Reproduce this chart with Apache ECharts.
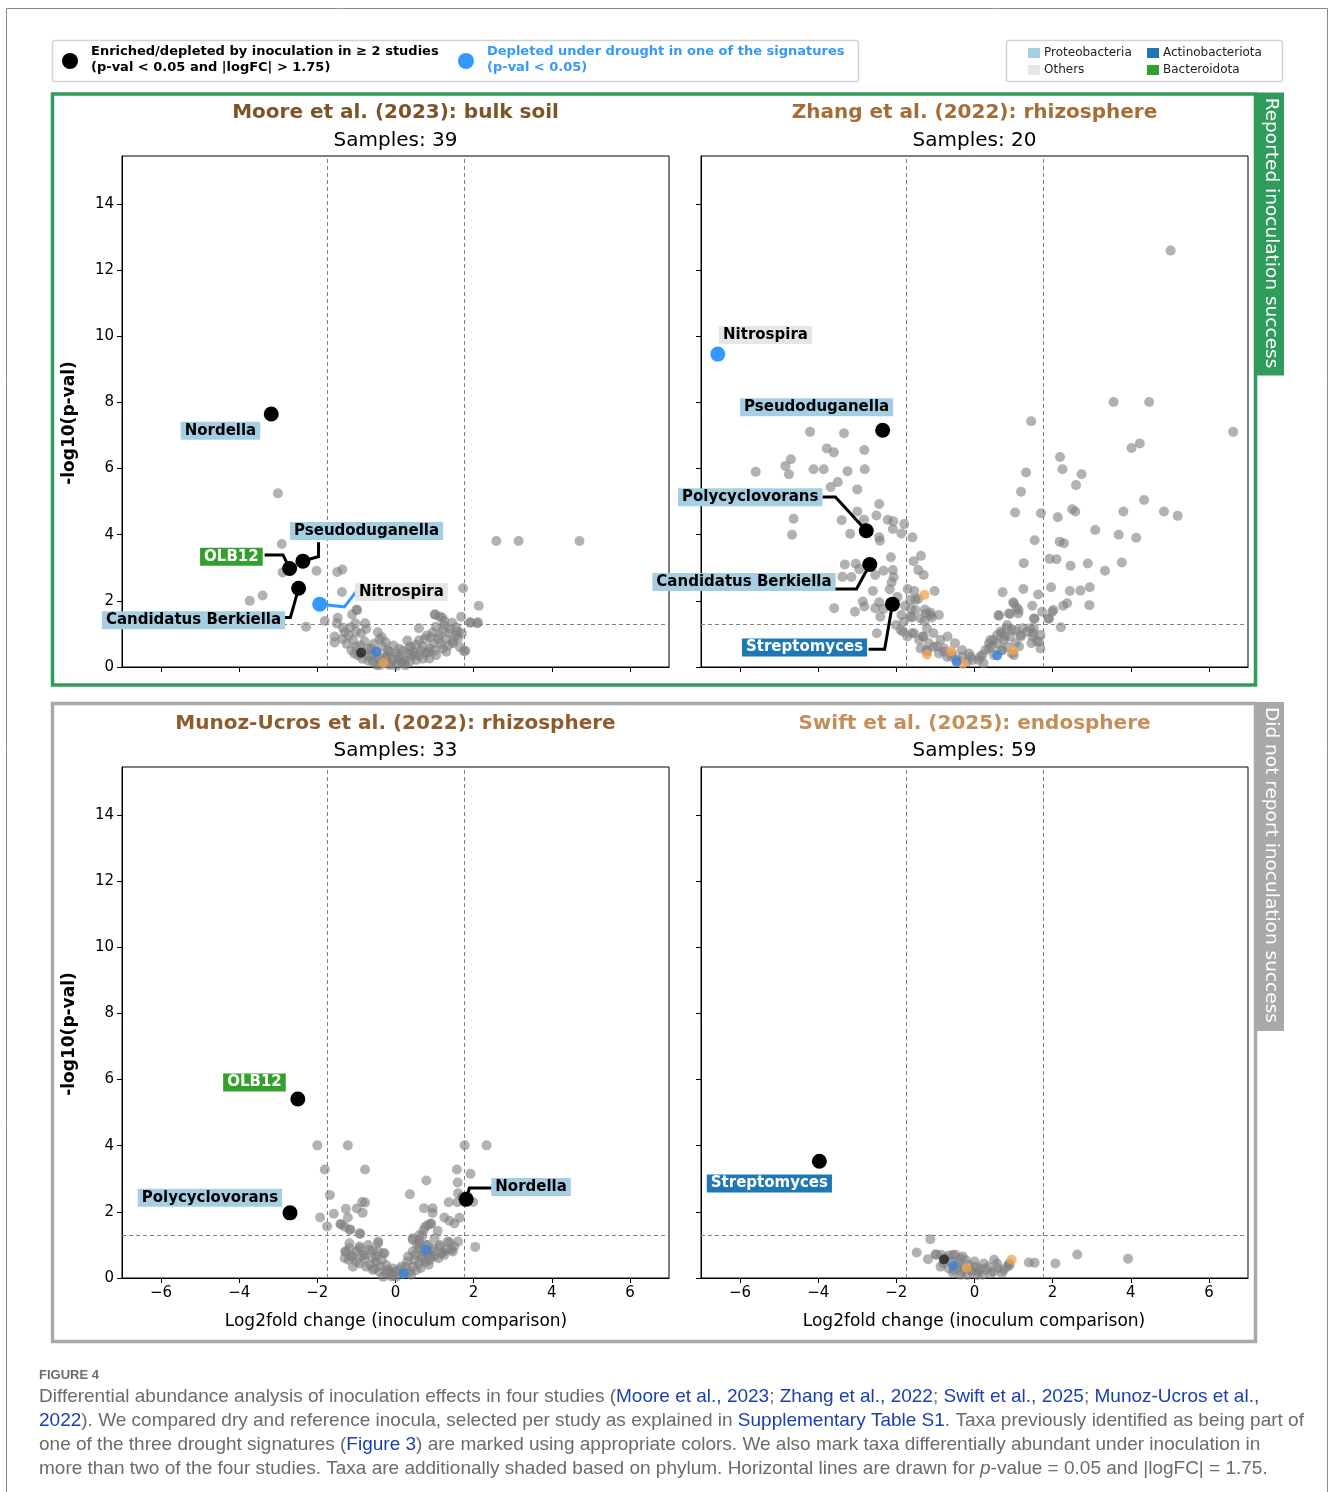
<!DOCTYPE html>
<html><head><meta charset="utf-8">
<script src="https://cdn.jsdelivr.net/npm/echarts@6/dist/echarts.min.js"></script>
<style>html,body{margin:0;padding:0;background:#fff}#c{width:1330px;height:1492px}</style>
</head><body><div id="c"></div>
<script>
// ---------- axis ticks ----------
const xTicks = [-6,-4,-2,0,2,4,6];
const yTicks = [0,2,4,6,8,10,12,14];
const pThreshold = -Math.log10(0.05);
const fcThreshold = 1.75;

// ---------- panel titles ----------
const panelTitles = ['Moore et al. (2023): bulk soil','Zhang et al. (2022): rhizosphere','Munoz-Ucros et al. (2022): rhizosphere','Swift et al. (2025): endosphere'];
const panelSamples = [39,20,33,59];

// ---------- Moore (bulk soil) ----------
const mooreGrey = [[-3.01,5.25],[-2.91,3.72],[-2.89,2.86],[-2.02,2.91],[-3.73,2.0],[-3.40,2.16],[-2.29,1.22],[-1.49,2.87],[-1.36,2.95],[-1.37,2.27],[-1.81,1.39],[-1.0,1.73],[-1.48,1.49],[2.58,3.81],[3.15,3.81],[4.71,3.81],[1.73,2.38],[2.13,1.85],
[-1.11,1.59],[-0.98,1.72],[-1.03,1.32],[-0.78,1.32],[-1.50,1.32],[1.02,1.59],[1.13,1.52],[1.25,1.40],[1.45,1.34],[1.68,1.52],[1.92,1.34],[2.09,1.32],[0.60,1.17],[-1.35,1.19],[-1.01,1.07],[-0.88,1.02],[-0.45,1.05],[-1.56,0.92],[-1.36,0.85],[-1.56,0.74],[-1.09,0.82],[-0.79,0.77],[-0.41,0.84],[1.04,1.22],[1.21,1.12],[1.13,0.97],[1.38,1.02],[1.60,1.07],[1.70,1.02],[1.47,0.77],[1.60,0.87],[1.75,0.48],[0.97,0.72],[0.87,0.56],[1.21,0.56],[1.30,0.46],[-1.13,0.51],[-1.01,0.61],[-0.84,0.46],[-0.62,0.56],[-0.49,0.46],[-0.32,0.61],[-0.15,0.46],[0.02,0.41],[0.19,0.49],[0.36,0.61],[0.53,0.67],[0.70,0.61],[0.78,0.41],[0.61,0.36],[0.40,0.36],[0.10,0.26],[-0.07,0.21],[-0.24,0.29],[-0.41,0.31],[-0.66,0.31],[-0.15,0.06],[0.02,0.03],[0.19,0.11],[-0.28,0.11],[0.36,0.16],[0.53,0.21],[0.87,0.26],[1.04,0.36],[-0.58,0.16],[-0.49,0.06],[1.47,0.72],[1.79,0.49],[1.91,1.35],[2.11,1.35],[1.0,1.59],[1.19,1.50],
[-0.95,0.35],[-0.7,0.2],[-0.3,0.15],[0.25,0.2],[0.65,0.5],[0.9,0.9],[-0.55,0.7],[-0.2,0.35],[0.45,0.45],[1.1,0.85],[-1.2,0.95],[-0.9,0.65],[1.35,0.65],[0.8,0.95],[-0.35,0.9],[0.1,0.55],[0.3,0.8],[-0.75,1.15],[1.55,1.2],[-0.05,0.65],
[-1.25,0.7],[-1.05,0.4],[-0.85,0.25],[-0.6,0.4],[-0.45,0.25],[-0.2,0.5],[0.05,0.3],[0.15,0.15],[0.3,0.4],[0.5,0.35],[0.7,0.25],[0.85,0.45],[1.0,0.5],[1.15,0.7],[1.3,0.85],[1.4,1.15],[1.55,0.95],[1.65,0.6],[0.6,0.8],[0.4,0.6],[-0.1,0.1],[0.25,0.05],[-0.4,0.05],[-0.7,0.55],[-1.3,1.05],[-1.15,1.2],[0.95,1.05],[1.25,1.25],[0.75,0.85],[-0.25,0.75]];
const mooreOrange = [[-0.30,0.12]];
const mooreBlue = [[-0.49,0.46]];
const mooreDark = [[-0.88,0.43]];
const mooreHits = [[-3.18,7.65],[-2.71,2.98],[-2.37,3.20],[-2.48,2.38]];
const mooreHitNames = ['Nordella','OLB12','Pseudoduganella','Candidatus Berkiella'];
const mooreSig = [[-1.94,1.90]];
const mooreSigNames = ['Nitrospira'];
const mooreLabels = {
  'Nordella':{at:[-4.48,7.14],path:[]},
  'OLB12':{at:[-4.20,3.33],path:[[-3.35,3.39],[-2.88,3.39]]},
  'Pseudoduganella':{at:[-0.74,4.11],path:[[-1.97,3.77],[-1.97,3.34]]},
  'Candidatus Berkiella':{at:[-5.17,1.41],path:[[-2.84,1.50],[-2.69,1.50]]},
  'Nitrospira':{at:[0.15,2.27],path:[[-1.01,2.27],[-1.31,1.82]]}
};

// ---------- Zhang (rhizosphere) ----------
const zhangGrey = [[-4.21,7.11],[-3.34,7.07],[-5.60,5.90],[-4.84,6.08],[-4.70,6.28],[-4.75,5.83],[-4.12,5.98],[-3.86,5.98],[-3.78,6.61],[-3.60,6.49],[-3.25,5.92],[-2.82,6.56],[-2.81,5.98],[-3.50,5.59],[-3.68,5.44],[-3.00,5.37],[-2.44,4.93],[-3.00,4.70],[-2.51,4.58],[-2.83,4.45],[-3.40,4.44],[-4.63,4.48],[-4.67,4.00],[-3.18,4.03],[-2.44,3.92],[-2.42,3.82],[-2.22,4.45],[-2.08,4.41],[-2.09,4.17],[-1.87,4.04],[-1.80,4.32],[-1.59,3.92],[-2.14,3.32],[-1.37,3.36],[-1.56,3.20],[-1.44,2.93],[-1.30,2.78],[-3.32,3.10],[-3.04,3.12],[-2.95,2.96],[-3.38,2.73],[-3.15,2.72],[-2.54,2.78],[-2.33,2.91],[-2.09,2.93],[-2.07,2.72],[-2.12,2.56],[-2.60,2.30],[-2.17,2.35],[-1.71,2.36],[-1.54,2.30],[-1.02,2.30],[-1.97,2.12],[-1.51,2.03],[-3.59,1.78],[-3.06,1.67],[-2.86,1.98],[-2.82,1.83],[-2.54,1.78],[-2.44,1.96],[-2.33,1.76],[-2.41,1.52],[-2.50,1.02],[-1.27,1.74],[-1.13,1.65],[-1.62,1.75],[-1.78,1.85],[-1.44,2.06],[-1.28,1.39],[-1.09,1.50],[-1.22,1.17],[-1.60,1.50],[-1.87,1.57],[-2.01,1.27],[-1.83,1.07],[-1.60,1.02],[-1.33,0.92],[-1.05,1.02],[-0.87,0.82],[-0.69,0.92],[-0.50,0.72],[-0.96,0.62],[-1.23,0.51],[-0.78,0.46],[-0.32,0.51],[-0.14,0.41],[-0.59,0.31],[-0.05,0.21],[0.14,0.31],[0.23,0.11],[0.37,0.56],[0.41,0.82],[0.59,0.72],[0.69,0.51],[0.78,0.92],[0.96,1.12],[0.82,1.17],[0.69,1.02],[1.05,0.72],[1.14,0.62],[1.19,0.92],[1.23,1.17],[1.42,1.17],[1.51,1.02],[1.65,0.77],[1.69,0.56],[1.46,0.72],[1.01,0.36],[0.96,0.41],[0.50,0.36],
[0.72,2.26],[0.62,1.55],[0.91,1.60],[0.99,1.96],[1.08,1.79],[1.12,1.62],[1.25,2.36],[1.26,3.14],[1.48,1.85],[1.54,1.46],[1.63,2.19],[1.54,3.83],[1.04,4.67],[1.70,4.65],[1.19,5.30],[1.32,5.88],[1.45,7.43],[1.90,1.46],[2.02,1.72],[1.96,2.41],[2.21,1.20],[1.92,3.27],[2.10,3.26],[2.13,4.53],[2.18,3.79],[2.29,3.74],[2.19,6.35],[2.25,5.98],[2.60,5.50],[2.74,5.83],[2.50,4.77],[2.58,4.70],[2.46,3.06],[2.44,2.30],[2.71,2.31],[2.95,2.41],[2.94,1.87],[2.27,1.85],[2.37,1.93],[2.90,3.13],[3.09,4.14],[3.34,2.91],[3.69,4.00],[3.77,3.16],[3.81,4.70],[4.14,3.91],[4.34,5.05],[4.02,6.62],[4.23,6.76],[4.85,4.70],[5.20,4.57],[3.56,8.01],[4.47,8.01],[6.62,7.11],[5.02,12.59],
[-1.89,1.12],[-1.72,0.92],[-1.55,1.02],[-1.42,0.82],[-1.30,0.92],[-1.17,0.72],[-1.38,0.56],[-1.21,0.46],[-1.04,0.61],[-0.91,0.41],[-0.78,0.56],[-0.70,0.31],[-0.57,0.41],[-0.44,0.21],[-0.32,0.31],[-0.19,0.16],[-0.10,0.31],[0.11,0.21],[0.20,0.36],[0.28,0.51],[0.37,0.72],[0.45,0.61],[0.49,0.82],[0.58,0.97],[0.67,1.07],[0.75,0.82],[0.84,0.61],[0.92,0.92],[1.05,1.12],[1.18,0.97],[1.35,1.07],[1.48,0.92],[1.60,0.77],[0.71,0.51],[-1.81,1.37],[-1.64,1.52],[-1.51,1.72],[-1.38,1.47],[-1.25,1.62],[-1.13,1.57],[-0.91,1.57],[-1.64,2.03],[0.62,1.57],[0.88,1.62],[1.01,1.92],[1.13,1.72],[1.52,1.47],[1.73,1.67],[1.99,1.67],[1.90,1.47],[1.52,1.17],[1.69,0.97],[0.84,1.27]];
const zhangOrange = [[-1.28,2.18],[-1.22,0.38],[0.99,0.50],[-0.30,0.10],[-0.60,0.48]];
const zhangBlue = [[-0.46,0.16],[0.58,0.35]];
const zhangDark = [];
const zhangHits = [[-2.35,7.16],[-2.77,4.12],[-2.68,3.10],[-2.10,1.90]];
const zhangHitNames = ['Pseudoduganella','Polycyclovorans','Candidatus Berkiella','Streptomyces'];
const zhangSig = [[-6.57,9.46]];
const zhangSigNames = ['Nitrospira'];
const zhangLabels = {
  'Pseudoduganella':{at:[-4.04,7.85],path:[]},
  'Polycyclovorans':{at:[-5.74,5.13],path:[[-3.89,5.14],[-3.56,5.14]]},
  'Candidatus Berkiella':{at:[-5.90,2.57],path:[[-3.58,2.36],[-3.02,2.36]]},
  'Streptomyces':{at:[-4.35,0.59],path:[[-2.71,0.54],[-2.30,0.54]]},
  'Nitrospira':{at:[-5.35,10.04],path:[]}
};

// ---------- Munoz-Ucros (rhizosphere) ----------
const munozGrey = [[-2.0,4.01],[-1.22,4.01],[1.77,4.01],[2.33,4.01],[-1.81,3.28],[-0.78,3.28],[1.57,3.28],[1.92,3.15],[1.59,2.89],[0.79,2.95],[0.37,2.53],[1.60,2.56],[-1.68,2.51],[-1.93,1.83],[-1.75,1.56],[-1.58,1.94],[-1.27,2.09],[-1.22,1.83],[-0.99,2.10],[-0.78,2.28],[-0.84,1.97],[-1.41,1.63],[-1.30,1.55],[-1.17,1.45],[-0.90,1.33],[0.73,2.11],[0.95,2.11],[0.95,1.97],[1.36,2.29],[1.58,2.29],[1.99,2.30],[1.25,1.83],[1.38,1.73],[1.51,1.65],[1.64,1.82],[0.76,1.55],[0.90,1.63],[1.08,1.43],[0.69,1.28],[2.04,0.94],[1.38,1.08],[1.21,0.78],[1.13,1.0],[0.95,0.90],[0.83,1.0],[0.44,1.15],[0.61,1.05],[-1.18,1.05],[-1.29,0.80],[-1.13,0.65],[-0.92,0.90],[-0.79,0.70],[-0.58,0.83],[-0.45,1.05],[-0.32,0.75],[-0.92,0.44],[-0.75,0.34],[-1.09,0.34],[-0.49,0.49],[-0.24,0.39],[-0.07,0.29],[0.10,0.26],[0.27,0.34],[0.49,0.54],[0.66,0.65],[0.83,0.75],[0.61,0.44],[0.78,0.49],[0.44,0.34],[0.19,0.14],[-0.07,0.09],[-0.24,0.14],[-0.41,0.19],[-0.58,0.24],[-0.32,0.04],[0.02,0.04],[0.36,0.19],[0.53,0.24],[1.0,0.65],[1.17,0.75],[1.47,0.80],
[-1.26,0.80],[-1.18,0.90],[-1.09,0.65],[-0.92,0.95],[-0.84,0.70],[-0.67,0.85],[-0.58,0.59],[-0.45,0.80],[-0.28,0.75],[-0.54,0.29],[-0.15,0.19],[0.32,0.65],[0.44,0.80],[0.61,0.90],[0.78,1.0],[0.96,0.80],[1.13,0.95],[1.30,0.85],[1.42,0.85],[0.70,0.59],[0.87,0.54],[0.44,1.20],[0.61,1.30],[0.72,1.45],[0.83,1.60],[0.91,1.65],[-0.44,1.10],[-0.92,1.35],[-1.16,1.47],[-1.39,1.62],[-0.85,2.30],[0.60,1.15],[1.34,1.10],[1.75,2.30],[1.70,2.45],
[-1.2,0.55],[-1.0,0.5],[-0.8,0.6],[-0.65,0.4],[-0.4,0.35],[-0.2,0.25],[0.0,0.2],[0.15,0.35],[0.3,0.5],[0.5,0.7],[0.7,0.8],[0.9,0.65],[1.1,0.6],[1.25,0.7],[1.5,0.95],[1.6,1.1],[-1.0,0.8],[-0.7,1.0],[-0.35,0.55],[0.25,0.15],[-0.1,0.05],[0.4,0.1],[0.65,0.3],[0.85,0.4],[-0.5,0.65],[-1.3,0.6],[1.0,1.2],[0.55,1.0]];
const munozOrange = [];
const munozBlue = [[0.78,0.85],[0.20,0.12]];
const munozDark = [];
const munozHits = [[-2.50,5.41],[-2.70,1.97],[1.81,2.38]];
const munozHitNames = ['OLB12','Polycyclovorans','Nordella'];
const munozSig = [];
const munozSigNames = [];
const munozLabels = {
  'OLB12':{at:[-3.61,5.91],path:[]},
  'Polycyclovorans':{at:[-4.75,2.43],path:[]},
  'Nordella':{at:[3.47,2.75],path:[[2.46,2.72],[1.89,2.72],[1.84,2.51]]}
};

// ---------- Swift (endosphere) ----------
const swiftGrey = [[-1.13,1.17],[-1.48,0.77],[-1.19,0.57],[-1.0,0.72],[-0.66,0.68],[-0.49,0.70],[-0.36,0.59],[-0.23,0.54],[-0.87,0.34],[-0.66,0.29],[-0.44,0.34],[-0.32,0.19],[-0.10,0.24],[0.03,0.34],[0.15,0.29],[0.24,0.44],[0.36,0.34],[0.49,0.19],[0.58,0.44],[0.75,0.24],[0.84,0.34],[0.88,0.44],[0.41,0.14],[0.07,0.09],[-0.19,0.09],[1.39,0.47],[1.54,0.46],[2.07,0.44],[2.63,0.71],[3.93,0.58],[-0.97,0.70],[-0.53,0.24],[-0.27,0.29],[-0.06,0.19],[0.90,0.39],[-0.8,0.45],[-0.6,0.5],[-0.4,0.45],[-0.15,0.4],[0.1,0.2],[0.3,0.25],[0.6,0.3],[0.7,0.15],[0.2,0.1],[-0.35,0.1],[-0.55,0.15],[-0.75,0.6],[-0.3,0.65],[0.0,0.5],[0.5,0.55],[-0.85,0.7],[-0.55,0.7]];
const swiftOrange = [[0.95,0.55],[-0.20,0.30]];
const swiftBlue = [[-0.54,0.38]];
const swiftDark = [[-0.78,0.56]];
const swiftHits = [[-3.97,3.53]];
const swiftHitNames = ['Streptomyces'];
const swiftSig = [];
const swiftSigNames = [];
const swiftLabels = {
  'Streptomyces':{at:[-5.25,2.86],path:[]}
};

// ---------- phylum of labelled taxa ----------
const phylumOf = {'Nordella':'Proteobacteria','OLB12':'Bacteroidota','Pseudoduganella':'Proteobacteria','Candidatus Berkiella':'Proteobacteria','Nitrospira':'Others','Polycyclovorans':'Proteobacteria','Streptomyces':'Actinobacteriota'};
const phylumNames = ['Proteobacteria','Actinobacteriota','Others','Bacteroidota'];
const phylumStyle = {
  'Proteobacteria':{bg:'#a6cee3',fg:'#000'},
  'Others':{bg:'#e6e6e6',fg:'#000'},
  'Actinobacteriota':{bg:'#1f78b4',fg:'#fff'},
  'Bacteroidota':{bg:'#33a02c',fg:'#fff'}
};

const panels = [
  {grey:mooreGrey,orange:mooreOrange,blue:mooreBlue,dark:mooreDark,hits:mooreHits,hitNames:mooreHitNames,sig:mooreSig,sigNames:mooreSigNames,labels:mooreLabels,titleColor:'#7d5428'},
  {grey:zhangGrey,orange:zhangOrange,blue:zhangBlue,dark:zhangDark,hits:zhangHits,hitNames:zhangHitNames,sig:zhangSig,sigNames:zhangSigNames,labels:zhangLabels,titleColor:'#a46d37'},
  {grey:munozGrey,orange:munozOrange,blue:munozBlue,dark:munozDark,hits:munozHits,hitNames:munozHitNames,sig:munozSig,sigNames:munozSigNames,labels:munozLabels,titleColor:'#8e5b2d'},
  {grey:swiftGrey,orange:swiftOrange,blue:swiftBlue,dark:swiftDark,hits:swiftHits,hitNames:swiftHitNames,sig:swiftSig,sigNames:swiftSigNames,labels:swiftLabels,titleColor:'#c48e58'}
];

// ---------- layout ----------
const FONT = '"DejaVu Sans", sans-serif';
const gridPos = [[122,156],[701,156],[122,767],[701,767]];
const GW = 547, GH = 511;
const minus = v => v < 0 ? '\u2212' + Math.abs(v) : String(v);

const grids = [], xAxes = [], yAxes = [], series = [];
panels.forEach((p, i) => {
  grids.push({left:gridPos[i][0], top:gridPos[i][1], width:GW, height:GH, show:true, borderColor:'#000', borderWidth:1, backgroundColor:'transparent'});
  xAxes.push({gridIndex:i, type:'value', min:-7, max:7,
    axisLine:{show:true, onZero:false, lineStyle:{color:'#000', width:1}},
    axisTick:{show:true, customValues:xTicks, length:5, lineStyle:{color:'#000'}},
    axisLabel:{show:i>=2, customValues:xTicks, formatter:minus, fontSize:15, color:'#000', fontFamily:FONT, margin:8},
    splitLine:{show:false}});
  yAxes.push({gridIndex:i, type:'value', min:0, max:15.45,
    axisLine:{show:true, onZero:false, lineStyle:{color:'#000', width:1}},
    axisTick:{show:true, customValues:yTicks, length:5, lineStyle:{color:'#000'}},
    axisLabel:{show:i%2===0, customValues:yTicks, fontSize:15, color:'#000', fontFamily:FONT, margin:8},
    splitLine:{show:false}});
  series.push({type:'scatter', xAxisIndex:i, yAxisIndex:i, data:p.grey, symbolSize:10, z:2,
    itemStyle:{color:'#7f7f7f', opacity:0.6}, silent:true,
    markLine:{silent:true, symbol:['none','none'], label:{show:false}, animation:false,
      lineStyle:{color:'#808080', type:[4,3], width:1},
      data:[{xAxis:-fcThreshold},{xAxis:fcThreshold},{yAxis:pThreshold}]}});
  series.push({type:'scatter', xAxisIndex:i, yAxisIndex:i, data:p.orange, symbolSize:10, z:3, itemStyle:{color:'#f5a24f', opacity:0.75}, silent:true});
  series.push({type:'scatter', xAxisIndex:i, yAxisIndex:i, data:p.blue, symbolSize:10, z:3, itemStyle:{color:'#3b85d8', opacity:0.85}, silent:true});
  series.push({type:'scatter', xAxisIndex:i, yAxisIndex:i, data:p.dark, symbolSize:10, z:3, itemStyle:{color:'#111', opacity:0.7}, silent:true});
  // annotations (lines + labels)
  const items = p.hits.map((v,k)=>({value:v, name:p.hitNames[k], sig:false}))
    .concat(p.sig.map((v,k)=>({value:v, name:p.sigNames[k], sig:true})));
  series.push({type:'custom', xAxisIndex:i, yAxisIndex:i, coordinateSystem:'cartesian2d', clip:false, z:5, silent:true,
    data:items.map(d=>d.value), encode:{x:0, y:1},
    renderItem:function(params, api){
      const it = items[params.dataIndex];
      const L = p.labels[it.name];
      const st = phylumStyle[phylumOf[it.name]];
      const pt = api.coord([api.value(0), api.value(1)]);
      const c = api.coord(L.at);
      const children = [];
      if (L.path.length) {
        const pts = L.path.map(q=>api.coord(q)); pts.push(pt);
        children.push({type:'polyline', shape:{points:pts}, style:{stroke: it.sig ? '#3399ff' : '#000', lineWidth:3, fill:null}});
      }
      children.push({type:'text', x:c[0], y:c[1], style:{text:it.name, font:'bold 15px ' + FONT, fill:st.fg, backgroundColor:st.bg, padding:[2,4,1,4], align:'center', verticalAlign:'middle'}});
      return {type:'group', children:children};
    }});
  series.push({type:'scatter', xAxisIndex:i, yAxisIndex:i, data:p.hits, symbolSize:15, z:6, itemStyle:{color:'#000', opacity:1}, silent:true});
  series.push({type:'scatter', xAxisIndex:i, yAxisIndex:i, data:p.sig, symbolSize:15, z:6, itemStyle:{color:'#3399ff', opacity:1}, silent:true});
});

// ---------- graphics: frames, titles, legends, caption ----------
const G = [];
G.push({type:'rect', shape:{x:6.5, y:8.5, width:1321, height:1500}, style:{fill:null, stroke:'#8a8a8a', lineWidth:1}, z:0});
// group frames
G.push({type:'rect', shape:{x:52.5, y:94, width:1203, height:591}, style:{fill:null, stroke:'#2f9c5b', lineWidth:3.5}});
G.push({type:'rect', shape:{x:1256, y:92.5, width:28, height:283}, style:{fill:'#2f9c5b'}});
G.push({type:'text', x:1271, y:233, rotation:-Math.PI/2, style:{text:'Reported inoculation success', font:'18.5px ' + FONT, fill:'#fff', align:'center', verticalAlign:'middle'}});
G.push({type:'rect', shape:{x:52.5, y:703.5, width:1203, height:638}, style:{fill:null, stroke:'#a9a9a9', lineWidth:3.5}});
G.push({type:'rect', shape:{x:1256, y:702, width:28, height:329}, style:{fill:'#a9a9a9'}});
G.push({type:'text', x:1271, y:865, rotation:-Math.PI/2, style:{text:'Did not report inoculation success', font:'18.5px ' + FONT, fill:'#fff', align:'center', verticalAlign:'middle'}});
// panel titles
const titleY = [113,113,724,724], sampY = [141,141,751,751];
panels.forEach((p,i)=>{
  const cx = gridPos[i][0] + GW/2;
  G.push({type:'text', x:cx, y:titleY[i], style:{text:panelTitles[i], font:'bold 20px ' + FONT, fill:p.titleColor, align:'center', verticalAlign:'middle'}});
  G.push({type:'text', x:cx, y:sampY[i], style:{text:'Samples: ' + panelSamples[i], font:'20px ' + FONT, fill:'#000', align:'center', verticalAlign:'middle'}});
});
// axis names
[[70,423],[70,1034]].forEach(q=>G.push({type:'text', x:q[0], y:q[1], rotation:Math.PI/2, style:{text:'-log10(p-val)', font:'bold 17px ' + FONT, fill:'#000', align:'center', verticalAlign:'middle'}}));
[396,974].forEach(x=>G.push({type:'text', x:x, y:1322, style:{text:'Log2fold change (inoculum comparison)', font:'17px ' + FONT, fill:'#000', align:'center', verticalAlign:'middle'}}));
// legend 1
G.push({type:'rect', shape:{x:52.5, y:40.5, width:806, height:41, r:2}, style:{fill:'#fff', stroke:'#d3d3d3', lineWidth:1.5}});
G.push({type:'circle', shape:{cx:70, cy:61, r:8}, style:{fill:'#000'}});
G.push({type:'text', x:91, y:52, style:{text:'Enriched/depleted by inoculation in \u2265 2 studies', font:'bold 13px ' + FONT, fill:'#000', verticalAlign:'middle'}});
G.push({type:'text', x:91, y:68, style:{text:'(p-val < 0.05 and |logFC| > 1.75)', font:'bold 13px ' + FONT, fill:'#000', verticalAlign:'middle'}});
G.push({type:'circle', shape:{cx:466, cy:61, r:8}, style:{fill:'#3399ff'}});
G.push({type:'text', x:487, y:52, style:{text:'Depleted under drought in one of the signatures', font:'bold 13px ' + FONT, fill:'#3399ff', verticalAlign:'middle'}});
G.push({type:'text', x:487, y:68, style:{text:'(p-val < 0.05)', font:'bold 13px ' + FONT, fill:'#3399ff', verticalAlign:'middle'}});
// legend 2 (phyla)
G.push({type:'rect', shape:{x:1006.5, y:40.5, width:276, height:41, r:2}, style:{fill:'#fff', stroke:'#d3d3d3', lineWidth:1.5}});
const legPos = {'Proteobacteria':[1028,53],'Others':[1028,70],'Actinobacteriota':[1147,53],'Bacteroidota':[1147,70]};
phylumNames.forEach(n=>{
  const q = legPos[n];
  G.push({type:'rect', shape:{x:q[0], y:q[1]-5, width:12, height:10}, style:{fill:phylumStyle[n].bg}});
  G.push({type:'text', x:q[0]+16, y:q[1], style:{text:n, font:'12px ' + FONT, fill:'#222', verticalAlign:'middle'}});
});
// caption
const CF = '"Liberation Sans Narrow", "Liberation Sans", sans-serif';
const capRich = {
  t:{fontFamily:CF, fontSize:19, fill:'#6b6b6b'},
  l:{fontFamily:CF, fontSize:19, fill:'#1b3fb0'},
  i:{fontFamily:CF, fontSize:19, fill:'#6b6b6b', fontStyle:'italic'}
};
G.push({type:'text', x:39, y:1375, style:{text:'FIGURE 4', font:'bold 13px ' + CF, fill:'#6b6b6b', verticalAlign:'middle'}});
const capLines = [
  '{t|Differential abundance analysis of inoculation effects in four studies (}{l|Moore et al., 2023}{t|; }{l|Zhang et al., 2022}{t|; }{l|Swift et al., 2025}{t|; }{l|Munoz-Ucros et al.,}',
  '{l|2022}{t|). We compared dry and reference inocula, selected per study as explained in }{l|Supplementary Table S1}{t|. Taxa previously identified as being part of}',
  '{t|one of the three drought signatures (}{l|Figure 3}{t|) are marked using appropriate colors. We also mark taxa differentially abundant under inoculation in}',
  '{t|more than two of the four studies. Taxa are additionally shaded based on phylum. Horizontal lines are drawn for }{i|p}{t|-value = 0.05 and |logFC| = 1.75.}'
];
capLines.forEach((s,k)=>G.push({type:'text', x:39, y:1397 + 24*k, style:{text:s, rich:capRich, verticalAlign:'middle'}}));

const chart = echarts.init(document.getElementById('c'), null, {renderer:'canvas', width:1330, height:1492});
chart.setOption({
  animation:false,
  backgroundColor:'#fff',
  textStyle:{fontFamily:FONT},
  grid:grids, xAxis:xAxes, yAxis:yAxes, series:series, graphic:G
});
</script>
</body></html>
